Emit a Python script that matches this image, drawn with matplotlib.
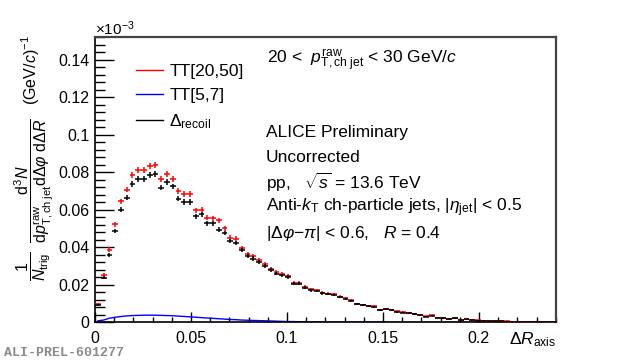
import numpy as np
import matplotlib
matplotlib.use('Agg')
import matplotlib.pyplot as plt
from matplotlib.lines import Line2D

plt.rcParams['font.family'] = ['Liberation Sans', 'DejaVu Sans']
plt.rcParams['mathtext.fontset'] = 'custom'
plt.rcParams['mathtext.rm'] = 'Liberation Sans'
plt.rcParams['mathtext.it'] = 'Liberation Sans:italic'
plt.rcParams['mathtext.bf'] = 'Liberation Sans:bold'

# binning in Delta R_axis
bin_lo, bin_hi, n_bins = 0.0, 0.24, 80

# TT[20,50] signal-like spectrum
tt_high = [
    0.0096, 0.0254, 0.0388, 0.0523, 0.0645, 0.0708, 0.0788, 0.0810, 0.0814, 0.0832,
    0.0837, 0.0763, 0.0793, 0.0763, 0.0700, 0.0683, 0.0683, 0.0597, 0.0601, 0.0558,
    0.0554, 0.0544, 0.0501, 0.0452, 0.0446, 0.0398, 0.0366, 0.0352, 0.0334, 0.0313,
    0.0286, 0.0268, 0.0260, 0.0248, 0.0210, 0.0210, 0.0189, 0.0176, 0.0170, 0.0158,
    0.0153, 0.0149, 0.0137, 0.0127, 0.0117, 0.0099, 0.0094, 0.0089, 0.0085, 0.0068,
    0.0071, 0.0066, 0.0058, 0.0054, 0.0049, 0.0045, 0.0038, 0.0031, 0.0037, 0.0025,
    0.0022, 0.0020, 0.0022, 0.0013, 0.0018, 0.0013, 0.0010, 0.0009, 0.0008, 0.0007,
    0.0006, 0.0005, 0.0004, 0.0003, 0.0003, 0.0002, 0.0002, 0.0001, 0.0001, 0.0000,
]

# Delta_recoil
recoil = [
    0.0093, 0.0238, 0.0361, 0.0487, 0.0601, 0.0665, 0.0740, 0.0763, 0.0766, 0.0784,
    0.0793, 0.0718, 0.0748, 0.0725, 0.0660, 0.0641, 0.0641, 0.0565, 0.0576, 0.0529,
    0.0529, 0.0494, 0.0476, 0.0433, 0.0423, 0.0384, 0.0352, 0.0340, 0.0322, 0.0299,
    0.0277, 0.0260, 0.0250, 0.0242, 0.0206, 0.0206, 0.0185, 0.0172, 0.0167, 0.0155,
    0.0150, 0.0146, 0.0134, 0.0124, 0.0114, 0.0096, 0.0091, 0.0086, 0.0083, 0.0066,
    0.0069, 0.0064, 0.0056, 0.0052, 0.0047, 0.0043, 0.0037, 0.0030, 0.0036, 0.0024,
    0.0021, 0.0019, 0.0021, 0.0012, 0.0017, 0.0012, 0.0009, 0.0008, 0.0007, 0.0006,
    0.0005, 0.0004, 0.0003, 0.0003, 0.0002, 0.0002, 0.0001, 0.0001, 0.0001, 0.0000,
]

# TT[5,7] reference spectrum
tt_low = [
    0.0008, 0.0012, 0.0022, 0.0027, 0.0031, 0.0034, 0.0036, 0.0037, 0.0038, 0.0038,
    0.0038, 0.0037, 0.0036, 0.0035, 0.0033, 0.0031, 0.0029, 0.0027, 0.0025, 0.0023,
    0.0021, 0.0019, 0.0017, 0.0015, 0.0014, 0.0012, 0.0011, 0.0010, 0.0009, 0.0008,
    0.0007, 0.0006, 0.0005, 0.0004, 0.0004, 0.0003, 0.0003, 0.0002, 0.0002, 0.0002,
    0.0001, 0.0001, 0.0001, 0.0001, 0.0001, 0.0001, 0.0001, 0.0001, 0.0001, 0.0001,
    0.0001, 0.0000, 0.0000, 0.0000, 0.0000, 0.0000, 0.0000, 0.0000, 0.0000, 0.0000,
    0.0000, 0.0000, 0.0000, 0.0000, 0.0000, 0.0000, 0.0000, 0.0000, 0.0000, 0.0000,
    0.0000, 0.0000, 0.0000, 0.0000, 0.0000, 0.0000, 0.0000, 0.0000, 0.0000, 0.0000,
]

# statistical errors (same size for both point series)
stat_err = [
    0.0006, 0.0009, 0.0011, 0.0013, 0.0014, 0.0015, 0.0016, 0.0016, 0.0016, 0.0016,
    0.0016, 0.0015, 0.0016, 0.0015, 0.0015, 0.0015, 0.0015, 0.0014, 0.0014, 0.0013,
    0.0013, 0.0013, 0.0012, 0.0012, 0.0012, 0.0011, 0.0011, 0.0011, 0.0010, 0.0010,
    0.0010, 0.0009, 0.0009, 0.0009, 0.0008, 0.0008, 0.0008, 0.0008, 0.0007, 0.0007,
    0.0007, 0.0007, 0.0007, 0.0006, 0.0006, 0.0006, 0.0006, 0.0005, 0.0005, 0.0005,
    0.0005, 0.0005, 0.0004, 0.0004, 0.0004, 0.0004, 0.0004, 0.0003, 0.0003, 0.0003,
    0.0003, 0.0003, 0.0003, 0.0002, 0.0002, 0.0002, 0.0002, 0.0002, 0.0002, 0.0002,
    0.0001, 0.0001, 0.0001, 0.0001, 0.0001, 0.0001, 0.0001, 0.0001, 0.0001, 0.0001,
]

edges = np.linspace(bin_lo, bin_hi, n_bins + 1)
centres = 0.5 * (edges[1:] + edges[:-1])
half_w = 0.5 * (edges[1:] - edges[:-1])

fig = plt.figure(figsize=(6.2, 3.63), dpi=100)
ax = fig.add_axes([0.1532, 0.1121, 0.7431, 0.7851])

ax.plot(centres, tt_low, color='#0000ff', lw=1.0, zorder=2)
ax.errorbar(centres, tt_high, xerr=half_w, yerr=stat_err, fmt='none',
            ecolor='#ff0000', elinewidth=1.1, capsize=0, zorder=3)
ax.errorbar(centres, recoil, xerr=half_w, yerr=stat_err, fmt='none',
            ecolor='black', elinewidth=1.1, capsize=0, zorder=4)

ax.set_xlim(0, 0.24)
ax.set_ylim(0, 0.152)
ax.set_xticks([0, 0.05, 0.1, 0.15, 0.2])
ax.set_xticklabels(['0', '0.05', '0.1', '0.15', '0.2'])
ax.set_xticks(np.arange(0, 0.2401, 0.01), minor=True)
ax.set_yticks([0, 0.02, 0.04, 0.06, 0.08, 0.1, 0.12, 0.14])
ax.set_yticklabels(['0', '0.02', '0.04', '0.06', '0.08', '0.1', '0.12', '0.14'])
ax.set_yticks(np.arange(0, 0.1521, 0.004), minor=True)
ax.tick_params(axis='both', which='both', direction='in', labelsize=11.5, width=1.0,
               top=False, right=False)
ax.tick_params(axis='x', which='major', length=7, pad=6)
ax.tick_params(axis='x', which='minor', length=3.5)
ax.tick_params(axis='y', which='major', length=14, pad=4)
ax.tick_params(axis='y', which='minor', length=7)
for side in ['left', 'bottom']:
    ax.spines[side].set_linewidth(1.2)
for side in ['right', 'top']:
    ax.spines[side].set_linewidth(1.6)
    ax.spines[side].set_color('#444444')

# exponent marker of the y axis
fig.text(95 / 620, 1 - 29 / 363, r'$\times$10$^{-3}$', fontsize=11, va='center', ha='left')

# y axis title
ylab = (r'$\dfrac{1}{N_{\rm trig}}\ \ \dfrac{{\rm d}^{3}N}'
        r'{{\rm d}p^{\rm raw}_{\rm T,ch\ jet}{\rm d}\Delta\varphi\ {\rm d}\Delta R}$'
        r'   (GeV/$c$)$^{-1}$')
fig.text(34 / 620, 1 - 158 / 363, ylab, rotation=90, fontsize=11.5, ha='center', va='center')

# x axis title
fig.text(556 / 620, 1 - 340 / 363, r'$\Delta R_{\rm axis}$', fontsize=12.5,
         ha='right', va='center')

# legend
handles = [Line2D([], [], color='#ff0000', lw=1),
           Line2D([], [], color='#0000ff', lw=1),
           Line2D([], [], color='black', lw=1)]
labels = ['TT[20,50]', 'TT[5,7]', r'$\Delta_{\rm recoil}$']
ax.legend(handles, labels, loc='upper left', bbox_to_anchor=(0.075, 0.93),
          frameon=False, fontsize=12.5, handlelength=1.5, handletextpad=0.4,
          labelspacing=0.5, borderaxespad=0)

ax.text(267 / 620, 1 - 60 / 363,
        r'20 <  $p^{\rm raw}_{\rm T,ch\ jet}$ < 30 GeV/$c$',
        transform=fig.transFigure, fontsize=12.5, va='center', ha='left')

info = ['ALICE Preliminary',
        'Uncorrected',
        r'pp,   $\sqrt{s}$ = 13.6 TeV',
        r'Anti-$k_{\rm T}$ ch-particle jets, $|\eta_{\rm jet}|$ < 0.5',
        r'$|\Delta\varphi$$-$$\pi|$ < 0.6,   $R$ = 0.4']
for i, line in enumerate(info):
    fig.text(266 / 620, 1 - (132 + 25.3 * i) / 363, line, fontsize=12.5,
             va='center', ha='left')

fig.text(4 / 620, 1 - 353 / 363, 'ALI-PREL-601277', fontsize=9.5,
         family='Liberation Mono', weight='bold', color='#8a8a8a',
         va='center', ha='left')

fig.savefig('out.png', dpi=100)
